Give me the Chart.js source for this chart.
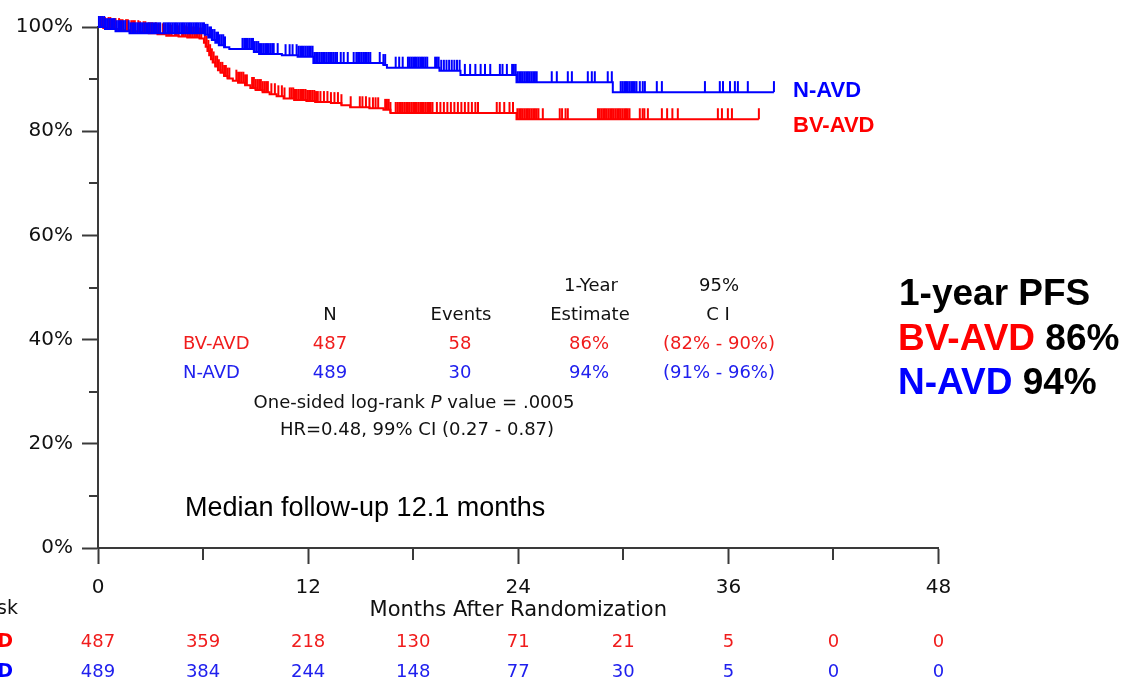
<!DOCTYPE html>
<html>
<head>
<meta charset="utf-8">
<script src="https://cdn.jsdelivr.net/npm/chart.js@4.4.1/dist/chart.umd.min.js"></script>
<style>
  html, body { margin: 0; padding: 0; background: #ffffff; }
  #wrap { width: 1127px; height: 679px; position: relative; }
  canvas { display: block; }
</style>
</head>
<body>
<div id="wrap"><canvas id="c" width="1127" height="679"></canvas></div>
<script>
// ---------------- DATA ----------------
const xTickValues = [0, 12, 24, 36, 48];
const xMinorTicks = [6, 18, 30, 42];
const yMinorTicks = [10, 30, 50, 70, 90];

const riskTimes = [0, 6, 12, 18, 24, 30, 36, 42, 48];
const riskBV = [487, 359, 218, 130, 71, 21, 5, 0, 0];
const riskN  = [489, 384, 244, 148, 77, 30, 5, 0, 0];

// BV-AVD Kaplan-Meier steps (months, % progression-free)
const bvTimes = [0, 0.3, 0.8, 1.3, 1.8, 2.4, 2.9, 3.4, 3.9, 4.6, 5.1, 5.8, 6.05, 6.15, 6.25,
  6.35, 6.45, 6.55, 6.7, 6.85, 7.0, 7.2, 7.4, 7.7, 8.0, 8.4, 8.7, 9.0, 9.4, 9.8,
  10.2, 10.6, 11.2, 11.9, 12.4, 13.3, 13.9, 14.4, 15.5, 16.3, 16.7, 23.9];
const bvSurv = [100, 99.8, 99.6, 99.4, 99.2, 99.0, 98.8, 98.6, 98.3, 98.2, 98.0, 97.8, 97.0, 96.2, 95.4,
  94.6, 93.8, 93.2, 92.4, 91.7, 91.2, 90.6, 90.1, 89.7, 89.3, 88.8, 88.3, 87.9, 87.5, 87.1,
  86.7, 86.3, 86.0, 85.8, 85.6, 85.4, 85.0, 84.6, 84.4, 84.1, 83.5, 82.3];
const bvEnd = 37.74;

// N-AVD Kaplan-Meier steps
const nTimes = [0, 0.4, 1.0, 1.8, 6.1, 6.3, 6.5, 6.7, 6.9, 7.2, 7.5, 8.9, 9.2, 10.5, 11.4,
  12.3, 16.3, 16.5, 19.5, 20.7, 23.9, 29.4];
const nSurv = [100, 99.6, 99.2, 98.8, 98.5, 98.0, 97.5, 97.0, 96.5, 96.1, 95.8, 95.2, 94.8, 94.6, 94.3,
  93.1, 92.7, 92.2, 91.6, 90.8, 89.4, 87.5];
const nEnd = 38.6;

// censoring times (months)
const bvCensor = [0.2, 0.3, 0.4, 0.6, 0.7, 0.9, 1.0, 1.2, 1.3, 1.4, 1.6, 1.7, 1.9, 2.0, 2.1, 2.3, 2.4,
  2.6, 2.7, 2.9, 3.0, 3.1, 3.3, 3.4, 3.5, 3.7, 3.8, 4.0, 4.1, 4.2, 4.4, 4.5, 4.6, 4.8, 4.9, 5.0,
  5.1, 5.2, 5.3, 5.4, 5.5, 5.6, 5.7, 5.8, 5.9,
  6.1, 6.2, 6.3, 6.4, 6.5, 6.6, 6.7, 6.8, 6.9, 7.0, 7.1, 7.2, 7.3, 7.4, 7.5,
  7.9, 8.0, 8.1, 8.2, 8.3, 8.4, 8.5,
  8.8, 8.9, 9.0, 9.1, 9.2, 9.3, 9.4, 9.5, 9.6, 9.7,
  9.9, 10.1, 10.3, 10.5, 10.65,
  10.95, 11.05, 11.15, 11.25, 11.35, 11.45, 11.55, 11.65, 11.75, 11.85, 11.95, 12.05, 12.15,
  12.25, 12.35, 12.45, 12.55,
  12.7, 12.9, 13.1, 13.3, 13.5, 13.7, 13.9, 14.43,
  14.95, 15.1, 15.3, 15.5, 15.7, 15.85, 16.0,
  16.4, 16.5, 16.6, 16.7,
  17.0, 17.1, 17.2, 17.3, 17.4, 17.5, 17.6, 17.7, 17.8, 17.9, 18.0, 18.1, 18.2, 18.3, 18.4,
  18.5, 18.6, 18.7, 18.8, 18.9, 19.0, 19.1,
  19.35, 19.55, 19.75, 19.95, 20.15, 20.35, 20.55, 20.75, 20.95, 21.15, 21.35, 21.55, 21.7,
  22.77, 22.94, 23.2, 23.5, 23.7,
  23.95, 24.05, 24.15, 24.25, 24.35, 24.45, 24.55, 24.65, 24.75, 24.85, 24.95, 25.05, 25.15,
  25.4, 26.37, 26.5, 26.7, 26.83,
  28.55, 28.65, 28.75, 28.85, 28.95, 29.05, 29.15, 29.25, 29.35, 29.45, 29.55, 29.65, 29.75,
  29.85, 29.95, 30.05, 30.15, 30.25, 30.35,
  30.94, 31.1, 31.2, 31.4, 32.2, 32.5, 32.8, 33.11,
  35.4, 35.63, 35.97, 36.2, 37.74];

const nCensor = [0.05, 0.15, 0.25, 0.35, 0.45, 0.55, 0.65, 0.75, 0.85, 0.95, 1.05, 1.15, 1.25, 1.35,
  1.45, 1.55, 1.75, 1.85, 1.95, 2.05, 2.15, 2.25, 2.35, 2.45, 2.55, 2.65, 2.75, 2.85, 2.95,
  3.05, 3.15, 3.25, 3.35, 3.45, 3.55, 3.75, 3.85, 3.95, 4.05, 4.15, 4.25, 4.35, 4.45, 4.55,
  4.65, 4.75, 4.85, 4.95, 5.05, 5.15, 5.25, 5.35, 5.45, 5.55, 5.65, 5.75, 5.85, 5.95, 6.05, 6.15,
  6.25, 6.35, 6.45, 6.55, 6.65, 6.75, 6.85, 6.95, 7.05, 7.15, 7.25,
  8.25, 8.35, 8.45, 8.55, 8.65, 8.75, 8.85, 8.95,
  9.05, 9.15, 9.25, 9.35, 9.45, 9.55, 9.65, 9.75, 9.85, 9.95,
  10.03, 10.26, 10.71, 10.94, 11.11, 11.34,
  11.45, 11.55, 11.65, 11.75, 11.85, 11.95, 12.05, 12.15, 12.25,
  12.35, 12.45, 12.55, 12.65, 12.75, 12.85, 12.95, 13.05, 13.15, 13.25, 13.35, 13.45, 13.55, 13.65,
  13.86, 14.03, 14.26, 14.6,
  14.75, 14.85, 14.95, 15.05, 15.15, 15.25, 15.35, 15.45, 15.55,
  16.09, 16.3, 16.4, 17.0, 17.2, 17.4,
  17.7, 17.8, 17.9, 18.0, 18.1, 18.2, 18.3, 18.4, 18.5, 18.6, 18.7, 18.8,
  19.25, 19.35, 19.45,
  19.6, 19.75, 19.9, 20.05, 20.2, 20.35, 20.5, 20.65,
  20.95, 21.25, 21.55, 21.85, 22.1, 22.4,
  22.95, 23.1, 23.35, 23.65, 23.75, 23.85,
  23.95, 24.05, 24.15, 24.25, 24.35, 24.45, 24.55, 24.65, 24.75, 24.85, 24.95, 25.05,
  25.91, 26.2, 26.83, 27.06, 27.97, 28.2, 28.37, 29.11, 29.34,
  29.85, 29.95, 30.05, 30.15, 30.25, 30.35, 30.45, 30.55, 30.65, 30.75,
  30.94, 31.11, 31.23, 31.91, 32.2, 34.66, 35.51, 35.69, 36.09, 36.37, 36.54, 37.11, 38.6];

// ---------------- STYLE ----------------
const RED = '#ff0000';
const BLUE = '#0000ff';
const TXT_RED = '#f01c1c';
const TXT_BLUE = '#2020ee';
const AXIS = '#3a3a3a';
const TICKFONT = '"DejaVu Sans", Verdana, sans-serif';
const ARIAL = '"Liberation Sans", Arial, sans-serif';

function stepPoints(times, surv, end) {
  const pts = times.map((t, i) => ({ x: t, y: surv[i] }));
  pts.push({ x: end, y: surv[surv.length - 1] });
  return pts;
}
function survAt(times, surv, t) {
  let v = surv[0];
  for (let i = 0; i < times.length; i++) { if (times[i] <= t) v = surv[i]; }
  return v;
}
function censorPoints(cens, times, surv) {
  return cens.map(t => ({ x: t, y: survAt(times, surv, t) }));
}
function tickMark(color) {
  const c = document.createElement('canvas');
  c.width = 4; c.height = 24;
  const g = c.getContext('2d');
  g.fillStyle = color;
  g.fillRect(1, 1, 2, 11);
  return c;
}

const textPlugin = {
  id: 'kmTexts',
  afterDraw(chart) {
    const ctx = chart.ctx;
    const xs = chart.scales.x, ys = chart.scales.y;
    ctx.save();
    // minor ticks
    ctx.strokeStyle = AXIS; ctx.lineWidth = 2;
    xMinorTicks.forEach(v => {
      const px = Math.round(xs.getPixelForValue(v));
      ctx.beginPath(); ctx.moveTo(px, ys.bottom); ctx.lineTo(px, ys.bottom + 12); ctx.stroke();
    });
    yMinorTicks.forEach(v => {
      const py = Math.round(ys.getPixelForValue(v));
      ctx.beginPath(); ctx.moveTo(xs.left, py); ctx.lineTo(xs.left - 9, py); ctx.stroke();
    });

    function t(str, x, y, font, color, align) {
      ctx.font = font; ctx.fillStyle = color; ctx.textAlign = align || 'left'; ctx.textBaseline = 'middle';
      ctx.fillText(str, x, y);
    }
    function runs(parts, x, y, align) {
      let total = 0;
      parts.forEach(p => { ctx.font = p[1]; total += ctx.measureText(p[0]).width; });
      let cx = align === 'center' ? x - total / 2 : x;
      parts.forEach(p => {
        ctx.font = p[1]; ctx.fillStyle = p[2]; ctx.textAlign = 'left'; ctx.textBaseline = 'middle';
        ctx.fillText(p[0], cx, y); cx += ctx.measureText(p[0]).width;
      });
    }

    // curve labels
    t('N-AVD', 793, 91, 'bold 22px ' + ARIAL, BLUE);
    t('BV-AVD', 793, 126, 'bold 22px ' + ARIAL, RED);

    // summary table
    const tf = '18px ' + TICKFONT;
    t('1-Year', 591, 286, tf, '#111', 'center');
    t('95%', 719, 286, tf, '#111', 'center');
    t('N', 330, 315, tf, '#111', 'center');
    t('Events', 461, 315, tf, '#111', 'center');
    t('Estimate', 590, 315, tf, '#111', 'center');
    t('C I', 718, 315, tf, '#111', 'center');
    t('BV-AVD', 183, 344, tf, TXT_RED, 'left');
    t('487', 330, 344, tf, TXT_RED, 'center');
    t('58', 460, 344, tf, TXT_RED, 'center');
    t('86%', 589, 344, tf, TXT_RED, 'center');
    t('(82% - 90%)', 719, 344, tf, TXT_RED, 'center');
    t('N-AVD', 183, 373, tf, TXT_BLUE, 'left');
    t('489', 330, 373, tf, TXT_BLUE, 'center');
    t('30', 460, 373, tf, TXT_BLUE, 'center');
    t('94%', 589, 373, tf, TXT_BLUE, 'center');
    t('(91% - 96%)', 719, 373, tf, TXT_BLUE, 'center');
    runs([['One-sided log-rank ', tf, '#111'], ['P', 'italic ' + tf, '#111'], [' value = .0005', tf, '#111']], 414, 403, 'center');
    t('HR=0.48, 99% CI (0.27 - 0.87)', 417, 430, tf, '#111', 'center');

    // median follow-up
    t('Median follow-up 12.1 months', 185, 509, '27px ' + ARIAL, '#000', 'left');

    // right panel
    const bf = 'bold 37px ' + ARIAL;
    t('1-year PFS', 899, 295, bf, '#000', 'left');
    runs([['BV-AVD ', bf, RED], ['86%', bf, '#000']], 898, 340, 'left');
    runs([['N-AVD ', bf, BLUE], ['94%', bf, '#000']], 898, 384, 'left');

    // risk table
    const rf = '18px ' + TICKFONT;
    t('No. at Risk', 18, 609, '19px ' + TICKFONT, '#111', 'right');
    t('BV-AVD', 13, 642, 'bold 19px ' + TICKFONT, RED, 'right');
    t('N-AVD', 13, 672, 'bold 19px ' + TICKFONT, BLUE, 'right');
    riskTimes.forEach((m, i) => {
      const px = xs.getPixelForValue(m);
      t(String(riskBV[i]), px, 642, rf, TXT_RED, 'center');
      t(String(riskN[i]), px, 672, rf, TXT_BLUE, 'center');
    });
    ctx.restore();
  }
};

new Chart(document.getElementById('c'), {
  type: 'scatter',
  data: {
    datasets: [
      { label: 'N-AVD censored', data: censorPoints(nCensor, nTimes, nSurv),
        pointStyle: tickMark(BLUE), pointRadius: 5, pointHoverRadius: 5, showLine: false, clip: false },
      { label: 'N-AVD', data: stepPoints(nTimes, nSurv, nEnd), showLine: true, stepped: 'before',
        borderColor: BLUE, borderWidth: 2, pointRadius: 0, fill: false, clip: false },
      { label: 'BV-AVD censored', data: censorPoints(bvCensor, bvTimes, bvSurv),
        pointStyle: tickMark(RED), pointRadius: 5, pointHoverRadius: 5, showLine: false, clip: false },
      { label: 'BV-AVD', data: stepPoints(bvTimes, bvSurv, bvEnd), showLine: true, stepped: 'before',
        borderColor: RED, borderWidth: 2, pointRadius: 0, fill: false, clip: false }
    ]
  },
  options: {
    responsive: false,
    devicePixelRatio: 1,
    animation: false,
    events: [],
    layout: { padding: { left: 0, right: 188.5, top: 27, bottom: 0 } },
    plugins: { legend: { display: false }, tooltip: { enabled: false } },
    scales: {
      x: {
        type: 'linear', min: 0, max: 48,
        afterFit: s => { s.height = 131; },
        afterBuildTicks: s => { s.ticks = xTickValues.map(v => ({ value: v })); },
        border: { color: AXIS, width: 2 },
        grid: { drawOnChartArea: false, tickLength: 16, tickColor: AXIS, tickWidth: 2 },
        ticks: { color: '#111', font: { family: TICKFONT, size: 20 }, padding: 12, maxRotation: 0, autoSkip: false },
        title: { display: true, text: 'Months After Randomization', color: '#111',
                 font: { family: TICKFONT, size: 21 }, padding: { top: 0, bottom: 56 } }
      },
      y: {
        type: 'linear', min: 0, max: 100,
        afterFit: s => { s.width = 98; },
        ticks: { stepSize: 20, color: '#111', font: { family: TICKFONT, size: 20 }, padding: 9,
                 callback: v => v + '%' },
        border: { color: AXIS, width: 2 },
        grid: { drawOnChartArea: false, tickLength: 16, tickColor: AXIS, tickWidth: 2 }
      }
    }
  },
  plugins: [textPlugin]
});
</script>
</body>
</html>
